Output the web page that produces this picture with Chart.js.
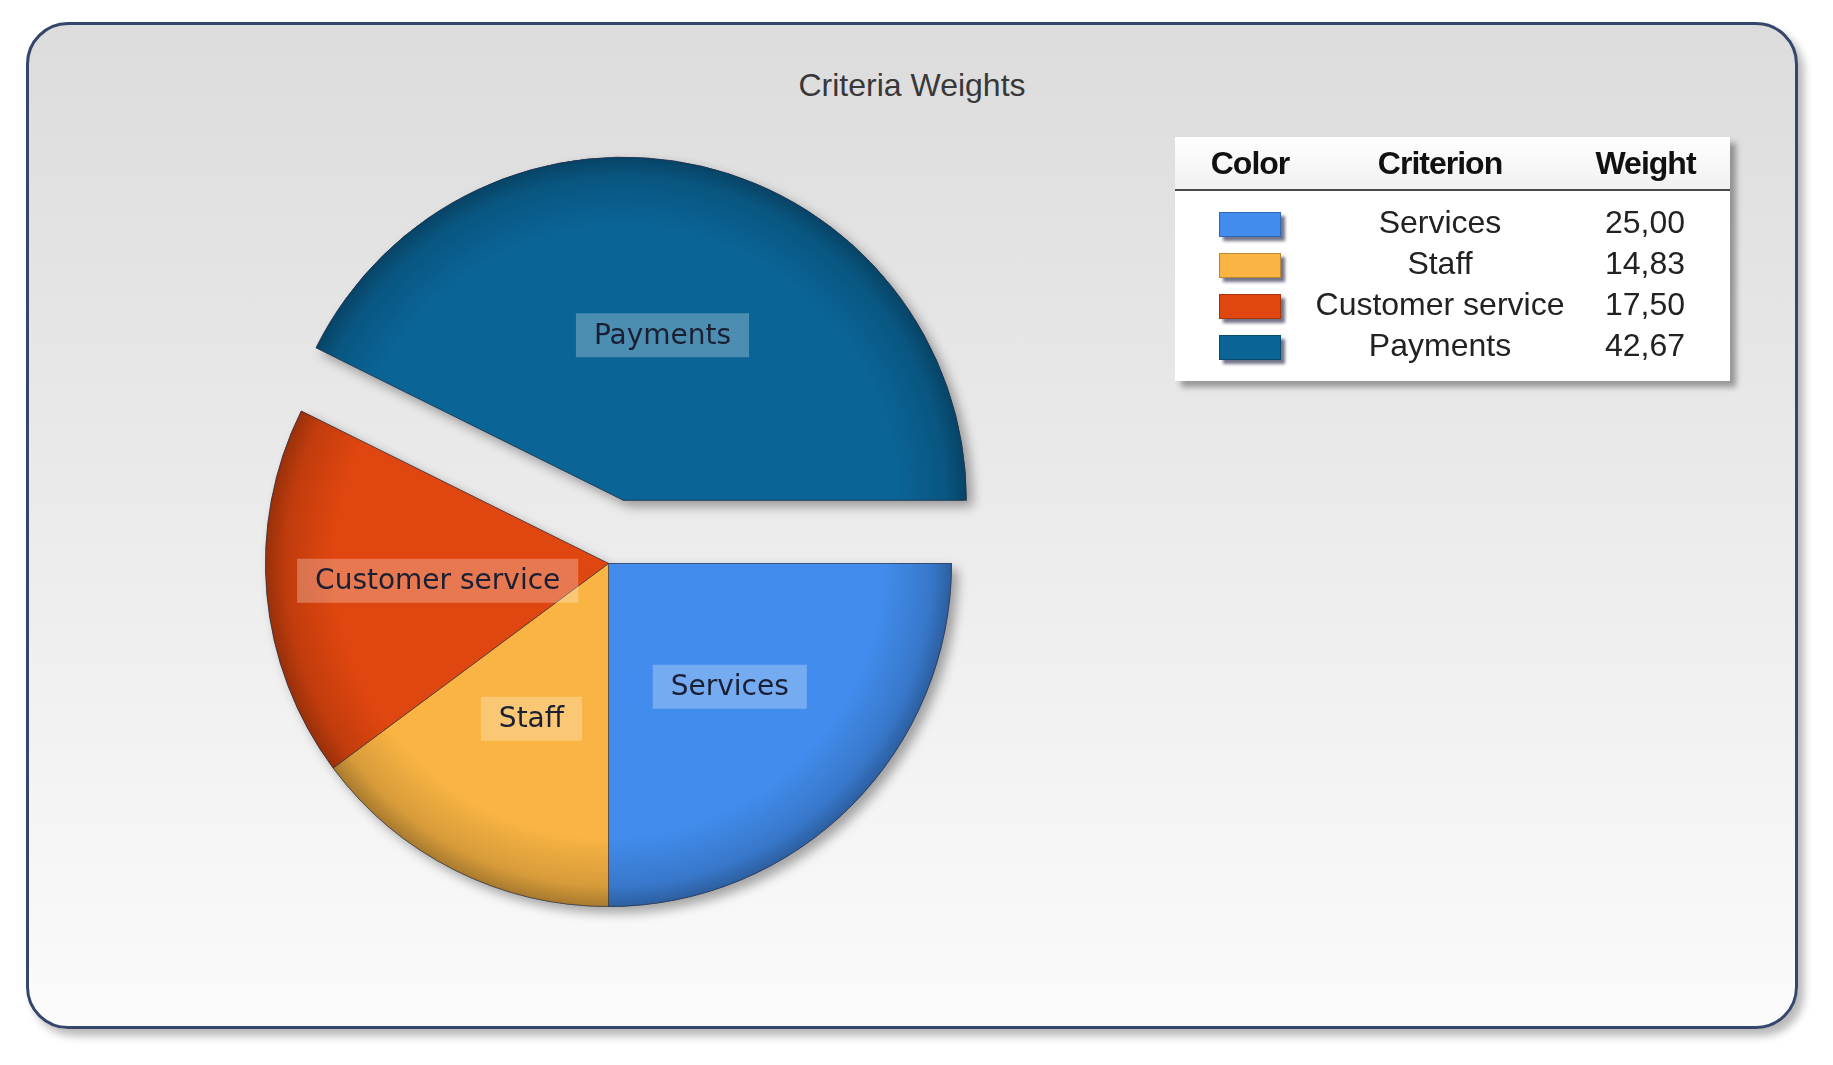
<!DOCTYPE html>
<html>
<head>
<meta charset="utf-8">
<title>Criteria Weights</title>
<script src="https://cdn.jsdelivr.net/npm/chart.js@4.4.1/dist/chart.umd.min.js"></script>
<style>
    html, body { margin: 0; padding: 0; background: #fff; }
    body { width: 1833px; height: 1065px; position: relative; overflow: hidden; font-family: "Liberation Sans", Arial, sans-serif; }
    .frame {
        position: absolute; left: 26px; top: 22px; width: 1772px; height: 1007px;
        box-sizing: border-box; border: 3px solid #34466b; border-radius: 42px;
        background: linear-gradient(#dcdcdc, #fbfbfb);
        box-shadow: 6px 7px 9px rgba(0, 0, 0, 0.28);
    }
    #chart { position: absolute; left: 0; top: 0; }
    .title {
        position: absolute; left: 0; width: 1824px; top: 64px; line-height: 42px;
        text-align: center; font-size: 32px; color: #383838;
    }
    .weights {
        position: absolute; left: 1175px; top: 137px; width: 555px; height: 244px;
        background: #fff; box-shadow: 6px 6px 6px rgba(0, 0, 0, 0.35);
    }
    .weights table { width: 555px; border-collapse: collapse; table-layout: fixed; }
    .weights th {
        height: 52px; font-size: 32px; font-weight: bold; color: #111; letter-spacing: -1px;
        border-bottom: 2px solid #4a4a4a; background: linear-gradient(#ffffff, #f1f1f1);
        padding: 0; text-align: center; white-space: nowrap;
    }
    .weights th.c0, .weights td.c0 { padding-left: 20px; }
    .weights th.c2 { padding-right: 14px; }
    .weights td { height: 41px; font-size: 32px; color: #222; padding: 0; text-align: center; white-space: nowrap; }
    .weights td.num { text-align: right; padding-right: 45px; }
    .weights tr.gap td { height: 11px; }
    .swatch {
        display: inline-block; width: 60px; height: 23px; vertical-align: middle;
        border: 1px solid rgba(0, 0, 0, 0.25); box-shadow: 4px 4px 3px rgba(0, 0, 40, 0.55);
    }
</style>
</head>
<body>
<div class="frame"></div>
<div class="title">Criteria Weights</div>
<canvas id="chart" width="1833" height="1065"></canvas>
<div class="weights">
    <table>
        <colgroup><col style="width:130px"><col style="width:270px"><col style="width:155px"></colgroup>
        <thead><tr><th class="c0">Color</th><th>Criterion</th><th class="c2">Weight</th></tr></thead>
        <tbody id="rows"><tr class="gap"><td></td><td></td><td></td></tr></tbody>
    </table>
</div>
<script>
    // Dados do gráfico
    var categories = ['Services', 'Staff', 'Customer service', 'Payments'];
    var weights = [25.00, 14.83, 17.50, 42.67];
    var sliceColors = ['#418cec', '#f9b443', '#e0460f', '#0a6496'];

    var pieRadius = 343;
    var explodeIndex = 3;      // fatia destacada (Payments)
    var explodeDistance = 65;

    /**
     * Escurece uma cor hex
     */
    function darken(hex, amount) {
        var n = parseInt(hex.slice(1), 16);
        var r = Math.round(((n >> 16) & 255) * (1 - amount));
        var g = Math.round(((n >> 8) & 255) * (1 - amount));
        var b = Math.round((n & 255) * (1 - amount));
        return 'rgb(' + r + ',' + g + ',' + b + ')';
    }

    /**
     * Gradiente radial de cada fatia (borda mais escura)
     */
    function shade(context) {
        var base = sliceColors[context.dataIndex];
        var area = context.chart.chartArea;
        if (!area) {
            return base;
        }
        var cx = (area.left + area.right) / 2;
        var cy = (area.top + area.bottom) / 2;
        var grad = context.chart.ctx.createRadialGradient(cx, cy, 0, cx, cy, pieRadius);
        grad.addColorStop(0, base);
        grad.addColorStop(0.8, base);
        grad.addColorStop(0.94, darken(base, 0.14));
        grad.addColorStop(1, darken(base, 0.32));
        return grad;
    }

    // Tabela de pesos
    var rows = document.getElementById('rows');
    categories.forEach(function (name, i) {
        var tr = document.createElement('tr');
        tr.innerHTML = '<td class="c0"><span class="swatch" style="background:' + sliceColors[i] + '"></span></td>' +
            '<td>' + name + '</td>' +
            '<td class="num">' + weights[i].toFixed(2).replace('.', ',') + '</td>';
        rows.appendChild(tr);
    });

    // Desloca a fatia destacada para fora do centro
    var explodePlugin = {
        id: 'explode',
        afterUpdate: function (chart) {
            chart.getDatasetMeta(0).data.forEach(function (arc, i) {
                arc.shift = i === explodeIndex ? explodeDistance : 0;
                if (arc.baseDraw) {
                    return;
                }
                arc.baseDraw = arc.draw;
                arc.draw = function (ctx, area) {
                    var mid = (this.startAngle + this.endAngle) / 2;
                    ctx.save();
                    ctx.translate(Math.cos(mid) * this.shift, Math.sin(mid) * this.shift);
                    this.baseDraw(ctx, area);
                    ctx.restore();
                };
            });
        },
        // sombra externa da pizza
        beforeDatasetsDraw: function (chart) {
            var ctx = chart.ctx;
            ctx.save();
            ctx.shadowColor = 'rgba(0, 0, 0, 0.35)';
            ctx.shadowBlur = 12;
            ctx.shadowOffsetX = 6;
            ctx.shadowOffsetY = 6;
            chart.getDatasetMeta(0).data.forEach(function (arc) {
                arc.draw(ctx, chart.chartArea);
            });
            ctx.restore();
        }
    };

    // Rótulos com caixa dentro de cada fatia
    var sliceLabels = {
        id: 'sliceLabels',
        afterDatasetsDraw: function (chart) {
            var ctx = chart.ctx;
            ctx.save();
            ctx.font = '28px "DejaVu Sans"';
            ctx.textAlign = 'center';
            ctx.textBaseline = 'middle';
            chart.getDatasetMeta(0).data.forEach(function (arc, i) {
                var mid = (arc.startAngle + arc.endAngle) / 2;
                var d = arc.shift + arc.outerRadius / 2;
                var x = arc.x + Math.cos(mid) * d;
                var y = arc.y + Math.sin(mid) * d + 2;
                var w = ctx.measureText(categories[i]).width + 36;
                ctx.fillStyle = 'rgba(255, 255, 255, 0.27)';
                ctx.fillRect(x - w / 2, y - 22, w, 44);
                ctx.fillStyle = '#1b1f33';
                ctx.fillText(categories[i], x, y + 1);
            });
            ctx.restore();
        }
    };

    var pieChart = new Chart(document.getElementById('chart'), {
        type: 'pie',
        data: {
            labels: categories,
            datasets: [{
                data: weights,
                backgroundColor: shade,
                borderColor: 'rgba(40, 45, 70, 0.55)',
                borderWidth: 1,
                rotation: 90,
                radius: pieRadius,
                clip: false
            }]
        },
        options: {
            responsive: false,
            animation: false,
            events: [],
            layout: {
                padding: { left: 265, right: 881, top: 219, bottom: 157 }
            },
            plugins: {
                legend: { display: false },
                tooltip: { enabled: false }
            }
        },
        plugins: [explodePlugin, sliceLabels]
    });
</script>
</body>
</html>
